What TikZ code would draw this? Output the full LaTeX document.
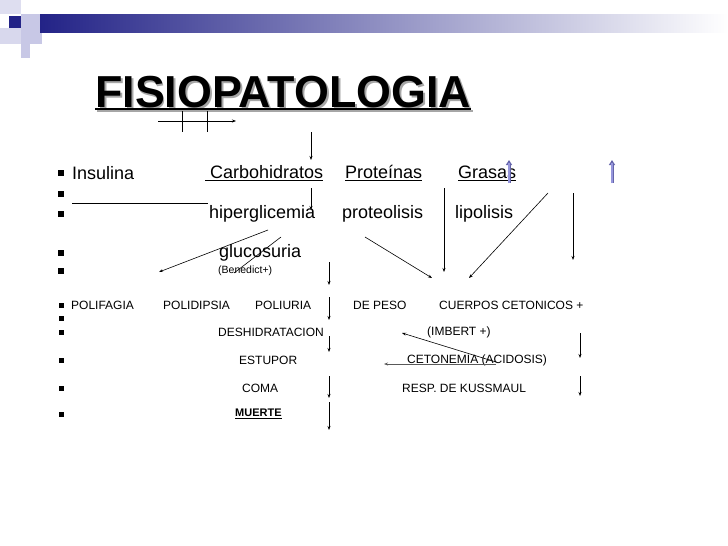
\documentclass[tikz,border=0pt]{standalone}
\usepackage{fontspec}
\usepackage{graphicx}
\setmainfont{Liberation Sans}
\usetikzlibrary{arrows.meta}
\definecolor{hdark}{RGB}{35,35,135}
\definecolor{hlight}{RGB}{200,200,230}
\definecolor{bluearr}{RGB}{150,150,220}
\tikzset{
 big/.style={anchor=west,inner sep=0pt,font=\fontsize{18}{20}\selectfont},
 sm/.style={anchor=west,inner sep=0pt,font=\fontsize{12}{14}\selectfont},
 bul/.style={fill=black,minimum size=6pt,inner sep=0pt},
 arr/.style={-{Stealth[length=4pt,width=3pt]},line width=0.6pt},
 ln/.style={line width=0.6pt}
}
\begin{document}
\begin{tikzpicture}[x=1pt,y=-1pt]
\useasboundingbox (0,0) rectangle (728,546);
% header
\fill[hlight!60] (0,0) rectangle (21,14);
\fill[hlight] (21,14) rectangle (42,44);
\fill[hlight!70] (0,28) rectangle (21,44);
\fill[hdark] (9,16) rectangle (21,28);
\shade[left color=hdark,right color=white] (40,14) rectangle (728,32);
\fill[hlight] (21,44) rectangle (30,58);
% title (shadow drawn as part of same text)
\node[anchor=west,inner sep=0pt,font=\fontsize{36}{40}\selectfont\bfseries] (title) at (95,93)
  {\resizebox{376pt}{!}{\rlap{\raisebox{-1.5pt}{\hspace{1.5pt}\textcolor{gray!70}{FISIOPATOLOGIA}}}FISIOPATOLOGIA}};
\draw[gray!70,line width=1.5pt] (97,111) -- (473,111);
\draw[line width=1.5pt] (95,109) -- (471,109);
\coordinate (ha) at (158,121); \coordinate (hb) at (236,121);
\draw[arr] (ha) -- (hb);
\draw[ln] (182,111) -- (182,132);
\draw[ln] (207,111) -- (207,132);
% bullets
\foreach \y/\n in {173/b1,194/b2,214/b3,253/b4,271/b5}
  \node[bul] (\n) at (61,\y) {};
\foreach \y/\n in {305/b6,318/b7,332/b8,360/b9,388/b10,414/b11}
  \node[bul,minimum size=5pt] (\n) at (61,\y) {};
% row 1
\node[big] (ins) at (72,173) {Insulina};
\node[big] (carb) at (205,173) {\underline{\ Carbohidratos}};
\node[big] (prot) at (345,173) {\underline{Proteínas}};
\node[big] (gras) at (458,173) {\underline{Grasas}};
\draw[ln] (72,203) -- (208,203);
\node[big] (hip) at (209,214) {hiperglicemia};
\node[big] (pro) at (342,214) {proteolisis};
\node[big] (lip) at (455,214) {lipolisis};
\node[big] (glu) at (219,253) {glucosuria};
\node[anchor=west,inner sep=0pt,font=\fontsize{10.5}{12}\selectfont] (ben) at (218,271) {(Benedict+)};
% blue up arrows
\draw[-{Triangle[length=5pt,width=6pt]},draw=hdark!70,line width=3pt] (509,183) -- (509,160);
\draw[bluearr,line width=2pt] (509,183) -- (509,163);
\draw[-{Triangle[length=5pt,width=6pt]},draw=hdark!70,line width=3pt] (612,183) -- (612,160);
\draw[bluearr,line width=2pt] (612,183) -- (612,163);
% arrows upper
\draw[arr] (311,132) -- (311,160);
\draw[arr] (311,188) -- (311,210);
\draw[arr] (268,230) -- (159,272);
\draw[ln] (281,237) -- (234,273);
\draw[arr] (365,237) -- (432,278);
\draw[arr] (444,188) -- (444,272);
\draw[arr] (548,193) -- (469,278);
\draw[arr] (573,193) -- (573,260);
\draw[arr] (329,262) -- (329,285);
% lower rows
\node[sm] (pf) at (71,305) {POLIFAGIA};
\node[sm] (pd) at (163,305) {POLIDIPSIA};
\node[sm] (pu) at (255,305) {POLIURIA};
\node[sm] (dp) at (353,305) {DE PESO};
\node[sm] (cc) at (439,305) {CUERPOS CETONICOS +};
\draw[arr] (329,297) -- (329,320);
\node[sm] (des) at (218,332) {DESHIDRATACION};
\draw[arr] (329,336) -- (329,352);
\node[sm] (imb) at (427,332) {(IMBERT +)};
\draw[arr] (580,333) -- (580,358);
\node[sm] (est) at (239,360) {ESTUPOR};
\node[sm] (cet) at (407,360) {CETONEMIA (ACIDOSIS)};
\draw[arr,gray!70!black] (496,364) -- (384,364);
\draw[arr] (496,362) -- (402,333);
\node[sm] (coma) at (242,388) {COMA};
\draw[arr] (329,376) -- (329,398);
\node[sm] (kus) at (402,388) {RESP. DE KUSSMAUL};
\draw[arr] (580,376) -- (580,396);
\node[sm,font=\fontsize{11}{13}\selectfont\bfseries] (mu) at (235,414) {\underline{MUERTE}};
\draw[arr] (329,402) -- (329,430);
\end{tikzpicture}
\end{document}
